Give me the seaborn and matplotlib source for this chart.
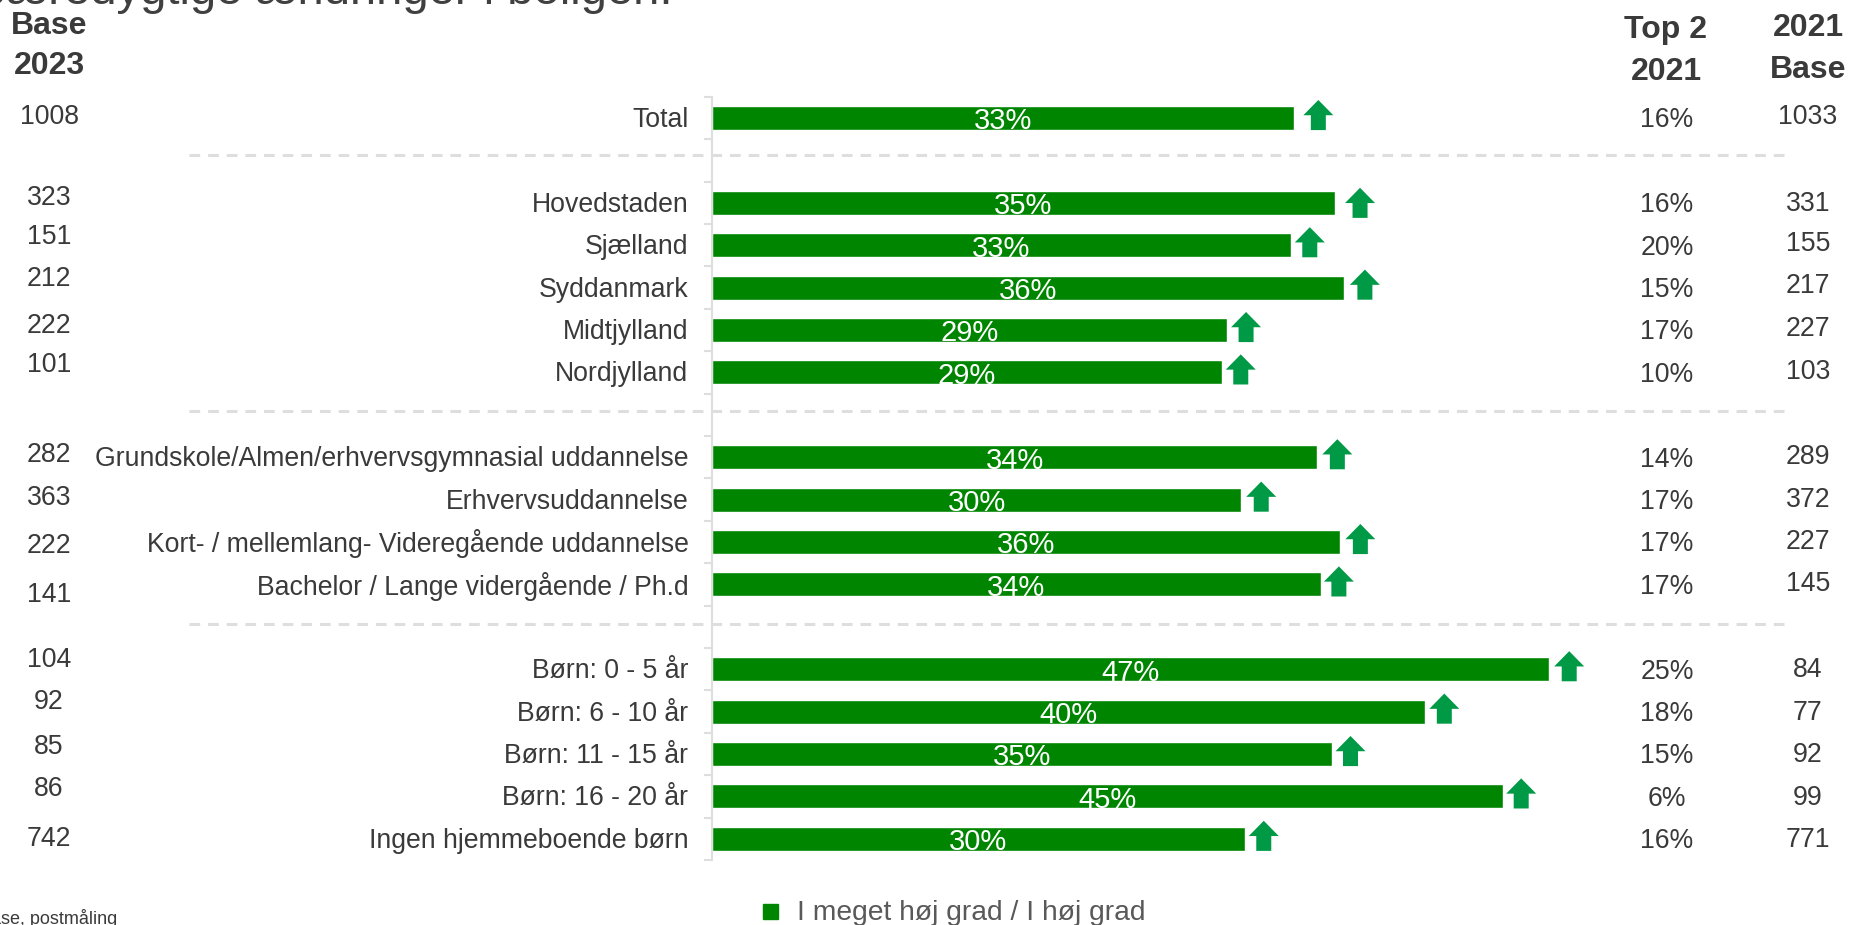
# Andel der svarer i meget høj grad / i høj grad, 2023 mod 2021
import pandas as pd
import matplotlib.pyplot as plt
import seaborn as sns
from matplotlib.transforms import ScaledTranslation, blended_transform_factory

W, H = 1850, 925

kategorier = ["Total", "Hovedstaden", "Sjælland", "Syddanmark", "Midtjylland", "Nordjylland",
              "Grundskole/Almen/erhvervsgymnasial uddannelse", "Erhvervsuddannelse",
              "Kort- / mellemlang- Videregående uddannelse", "Bachelor / Lange vidergående / Ph.d",
              "Børn: 0 - 5 år", "Børn: 6 - 10 år", "Børn: 11 - 15 år", "Børn: 16 - 20 år",
              "Ingen hjemmeboende børn"]
vaerdi = [32.9, 35.2, 32.7, 35.7, 29.1, 28.8, 34.2, 29.9, 35.5, 34.4, 47.3, 40.3, 35.0, 44.7, 30.1]
etiket = ["33%", "35%", "33%", "36%", "29%", "29%", "34%", "30%", "36%", "34%", "47%", "40%", "35%", "45%", "30%"]
base_2023 = ["1008", "323", "151", "212", "222", "101", "282", "363", "222", "141", "104", "92", "85", "86", "742"]
top2_2021 = ["16%", "16%", "20%", "15%", "17%", "10%", "14%", "17%", "17%", "17%", "25%", "18%", "15%", "6%", "16%"]
base_2021 = ["1033", "331", "155", "217", "227", "103", "289", "372", "227", "145", "84", "77", "92", "99", "771"]
# tom række mellem grupperne
raekker = ["Total", " ", "Hovedstaden", "Sjælland", "Syddanmark", "Midtjylland", "Nordjylland", "  ",
           "Grundskole/Almen/erhvervsgymnasial uddannelse", "Erhvervsuddannelse",
           "Kort- / mellemlang- Videregående uddannelse", "Bachelor / Lange vidergående / Ph.d", "   ",
           "Børn: 0 - 5 år", "Børn: 6 - 10 år", "Børn: 11 - 15 år", "Børn: 16 - 20 år",
           "Ingen hjemmeboende børn"]

df = pd.DataFrame({"kategori": kategorier, "vaerdi": vaerdi})

GRON = "#008500"
PIL = "#009A47"
TEKST = "#3A3A3A"
GRAA = "#DEDEDE"
FS = 19.2

sns.set_theme(style="white")
plt.rcParams["font.family"] = ["Liberation Sans", "DejaVu Sans"]

fig = plt.figure(figsize=(W / 100, H / 100), dpi=100)
# aksen: række 0 ligger ved y=118, 42.4 px mellem rækkerne
top, rh = 118 - 21.2, 42.4
ax = fig.add_axes([712 / W, 1 - (top + 18 * rh) / H, 900 / W, 18 * rh / H])

sns.barplot(data=df, y="kategori", x="vaerdi", order=raekker, color=GRON, width=0.57,
            saturation=1, ax=ax)
ax.set_xlim(0, 900 / 17.7)
ax.set_ylim(17.5, -0.5)
ax.set_xlabel("")
ax.set_ylabel("")
ax.xaxis.set_visible(False)
sns.despine(ax=ax, bottom=True)
ax.patch.set_alpha(0)
ax.spines["left"].set_color(GRAA)
ax.spines["left"].set_linewidth(1.5)

ax.tick_params(axis="y", which="major", length=0, pad=17, labelsize=FS, labelcolor=TEKST)
ax.set_yticks([i + 0.5 for i in range(-1, 18)], minor=True)
ax.tick_params(axis="y", which="minor", left=True, length=6, width=1.5, color=GRAA)
# kategoriteksterne ligger en anelse højere
for lbl in ax.get_yticklabels():
    lbl.set_transform(lbl.get_transform() + ScaledTranslation(0, 1 / 100, fig.dpi_scale_trans))

blend_x = blended_transform_factory(fig.transFigure, ax.transData)

def kolonne(x_px, y_data, s):
    ax.text(x_px / W, y_data, s, transform=blend_x, ha="center", va="center", fontsize=FS,
            color=TEKST, clip_on=False)

rk = [raekker.index(k) for k in kategorier]
# de håndplacerede tal i kolonnerne ligger lidt skævt i forhold til søjlerne
skaev_venstre = [-1, -4, -7, -7, -3, -6, -2, -1, 3, 9, -8, -8, -6, -6, 0]
skaev_hoejre = [-1, 1, -1, -1, -1, 0, 0, 0, 0, 0, 1, 1, 1, 1, 1]
# afstand fra søjleende til pilens midte, px
pil_afstand = [24, 25, 19, 21, 19, 19, 20, 20, 20, 18, 20, 19, 19, 18, 19]
pil_ned = [0, 3, 0, 0, 0, 0, 0, 0, 0, 0, 0, 0, 0, 0, 0]

for i, r in enumerate(rk):
    v = vaerdi[i]
    ax.text(v / 2, r + 0.08, etiket[i], ha="center", va="center", color="white", fontsize=21)
    # pil op efter søjlen
    y_pil = r + 0.285 + pil_ned[i] / rh
    ax.arrow(v + pil_afstand[i] / 17.7, y_pil, 0, -0.71, width=15 / 17.7, head_width=30 / 17.7,
             head_length=0.36, length_includes_head=True, color=PIL, lw=0, clip_on=False)
    kolonne(49, r + skaev_venstre[i] * 1.18 / rh, base_2023[i])
    kolonne(1667, r + 2 * 1.18 / rh, top2_2021[i])
    kolonne(1808, r + skaev_hoejre[i] * 1.18 / rh, base_2021[i])

# stiplede skillelinjer
for y_px in [155, 410.5, 623.5]:
    fig.add_artist(plt.Line2D([189 / W, 1788 / W], [1 - y_px / H] * 2, color=GRAA, lw=2.2,
                              dashes=(3.5, 2.6), transform=fig.transFigure))

# kolonneoverskrifter
for x_px, y_px, s in [(49, 26, "Base"), (49, 65.5, "2023"), (1666, 30, "Top 2"), (1666, 71.5, "2021"),
                      (1808, 28, "2021"), (1808, 70.5, "Base")]:
    fig.text(x_px / W, 1 - y_px / H, s, ha="center", va="center", fontsize=23, fontweight="bold",
             color=TEKST)

# afskåret titel og fodnote
fig.text(673 / W, 1 - 4 / H, "bæredygtige ændringer i boligen.", ha="right", va="baseline",
         fontsize=34, color="#404040")
fig.text(117 / W, 1 - 924 / H, "Base, postmåling", ha="right", va="baseline", fontsize=13,
         color=TEKST)

# forklaring
fig.add_artist(plt.Rectangle((763 / W, 1 - 919 / H), 15 / W, 15 / H, color=GRON,
                             transform=fig.transFigure))
fig.text(797 / W, 1 - 913 / H, "I meget høj grad / I høj grad", ha="left", va="center",
         fontsize=20.3, color="#595959")

fig.savefig("out.png", dpi=100)
